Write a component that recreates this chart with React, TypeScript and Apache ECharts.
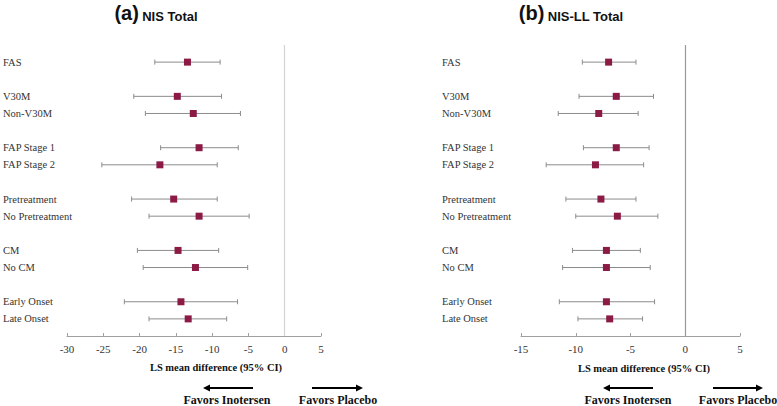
import React, { useEffect, useRef } from "react";
import * as echarts from "echarts";

const rowLabels = ["", "FAS", "", "V30M", "Non-V30M", "", "FAP Stage 1", "FAP Stage 2", "", "Pretreatment", "No Pretreatment", "", "CM", "No CM", "", "Early Onset", "Late Onset", ""];
const subgroups = ["FAS", "V30M", "Non-V30M", "FAP Stage 1", "FAP Stage 2", "Pretreatment", "No Pretreatment", "CM", "No CM", "Early Onset", "Late Onset"];

const nisEst = [-13.4, -14.8, -12.6, -11.8, -17.2, -15.3, -11.8, -14.7, -12.3, -14.3, -13.3];
const nisLo = [-17.9, -20.8, -19.2, -17.1, -25.2, -21.1, -18.7, -20.3, -19.5, -22.1, -18.7];
const nisHi = [-8.9, -8.7, -6.1, -6.4, -9.3, -9.3, -4.9, -9.1, -5.1, -6.5, -8.0];

const nisllEst = [-7.0, -6.3, -7.9, -6.3, -8.2, -7.7, -6.2, -7.2, -7.2, -7.2, -6.9];
const nisllLo = [-9.4, -9.7, -11.6, -9.3, -12.7, -10.9, -10.0, -10.3, -11.2, -11.5, -9.8];
const nisllHi = [-4.5, -2.9, -4.3, -3.3, -3.8, -4.5, -2.5, -4.1, -3.2, -2.8, -3.9];

const xTicksA = { min: -30, max: 5, interval: 5 };
const xTicksB = { min: -15, max: 5, interval: 5 };

const SERIF = "Liberation Serif, serif";
const SANS = "Liberation Sans, Arial, sans-serif";

function buildPanel(idx: number, est: number[], lo: number[], hi: number[]) {
  const ciData = subgroups.map((g, i) => [lo[i], hi[i], rowLabels.indexOf(g)]);
  const ptData = subgroups.map((g, i) => [est[i], rowLabels.indexOf(g)]);
  const zeroColor = idx === 0 ? "#d4d4d4" : "#9a9a9a";
  return [
    {
      type: "custom",
      xAxisIndex: idx,
      yAxisIndex: idx,
      data: ciData,
      encode: { x: [0, 1], y: 2 },
      renderItem: (params: any, api: any) => {
        const p1 = api.coord([api.value(0), api.value(2)]);
        const p2 = api.coord([api.value(1), api.value(2)]);
        const c = 2.5;
        const st = { stroke: "#8c8c8c", lineWidth: 1 };
        return {
          type: "group",
          children: [
            { type: "line", shape: { x1: p1[0], y1: p1[1], x2: p2[0], y2: p2[1] }, style: st },
            { type: "line", shape: { x1: p1[0], y1: p1[1] - c, x2: p1[0], y2: p1[1] + c }, style: st },
            { type: "line", shape: { x1: p2[0], y1: p2[1] - c, x2: p2[0], y2: p2[1] + c }, style: st },
          ],
        };
      },
      z: 2,
    },
    {
      type: "scatter",
      xAxisIndex: idx,
      yAxisIndex: idx,
      data: ptData,
      symbol: "rect",
      symbolSize: 7,
      itemStyle: { color: "#8b1a45", opacity: 1 },
      z: 3,
      markLine: {
        silent: true,
        symbol: "none",
        label: { show: false },
        lineStyle: { color: zeroColor, width: 1.2, type: "solid" },
        data: [{ xAxis: 0 }],
      },
    },
  ];
}

function xAxisCfg(idx: number, t: { min: number; max: number; interval: number }) {
  return {
    type: "value",
    gridIndex: idx,
    min: t.min,
    max: t.max,
    interval: t.interval,
    splitLine: { show: false },
    axisLine: { show: true, onZero: false, lineStyle: { color: "#a0a0a0", width: 1 } },
    axisTick: { show: true, inside: true, length: 3, lineStyle: { color: "#a0a0a0" } },
    axisLabel: { fontFamily: SERIF, fontSize: 11, color: "#333", margin: 7 },
  };
}

function yAxisCfg(idx: number, margin: number) {
  return {
    type: "category",
    gridIndex: idx,
    data: rowLabels.map((r, i) => ({ value: r === "" ? " ".repeat(i + 1) : r })),
    inverse: true,
    boundaryGap: false,
    axisLine: { show: false },
    axisTick: { show: false },
    splitLine: { show: false },
    axisLabel: {
      interval: 0,
      align: "left",
      margin,
      fontFamily: SERIF,
      fontSize: 10.5,
      color: "#333",
      formatter: (v: string) => v.trim(),
    },
  };
}

function arrow(x1: number, x2: number, y: number) {
  const dir = x2 > x1 ? 1 : -1;
  return [
    { type: "line", shape: { x1, y1: y, x2: x2 - dir * 5, y2: y }, style: { stroke: "#000", lineWidth: 2 } },
    { type: "polygon", shape: { points: [[x2, y], [x2 - dir * 7, y - 3.5], [x2 - dir * 7, y + 3.5]] }, style: { fill: "#000" } },
  ];
}

function label(text: string, x: number, y: number, size: number) {
  return {
    type: "text",
    x,
    y,
    style: { text, fontFamily: SERIF, fontWeight: "bold", fontSize: size, fill: "#111", align: "center", verticalAlign: "middle" },
  };
}

function title(tag: string, name: string, x: number) {
  return {
    type: "text",
    x,
    y: 13,
    style: {
      text: `{a|${tag}} {b|${name}}`,
      align: "center",
      verticalAlign: "middle",
      rich: {
        a: { fontFamily: SANS, fontWeight: "bold", fontSize: 20, fill: "#111", verticalAlign: "bottom" },
        b: { fontFamily: SANS, fontWeight: "bold", fontSize: 13, fill: "#111", verticalAlign: "bottom" },
      },
    },
  };
}

export default function App() {
  const ref = useRef<HTMLDivElement>(null);
  useEffect(() => {
    if (!ref.current) return;
    const chart = echarts.init(ref.current, null, { renderer: "svg" });
    chart.setOption({
      animation: false,
      backgroundColor: "#fff",
      grid: [
        { left: 65, right: 456, top: 45, bottom: 70 },
        { left: 521, right: 37, top: 45, bottom: 70 },
      ],
      xAxis: [xAxisCfg(0, xTicksA), xAxisCfg(1, xTicksB)],
      yAxis: [yAxisCfg(0, 64), yAxisCfg(1, 79)],
      series: [...buildPanel(0, nisEst, nisLo, nisHi), ...buildPanel(1, nisllEst, nisllLo, nisllHi)],
      graphic: [
        title("(a)", "NIS Total", 156),
        title("(b)", "NIS-LL Total", 571),
        label("LS mean difference (95% CI)", 216, 367, 10.5),
        label("LS mean difference (95% CI)", 644, 368, 10.5),
        ...arrow(253, 203, 388),
        ...arrow(312, 363, 388),
        ...arrow(653, 603, 388),
        ...arrow(713, 763, 388),
        label("Favors Inotersen", 227, 400, 12),
        label("Favors Placebo", 338, 400, 12),
        label("Favors Inotersen", 628, 400, 12),
        label("Favors Placebo", 738, 400, 12),
      ],
    });
    return () => chart.dispose();
  }, []);
  return <div ref={ref} style={{ width: 777, height: 406, position: "absolute", left: 0, top: 0 }} />;
}
